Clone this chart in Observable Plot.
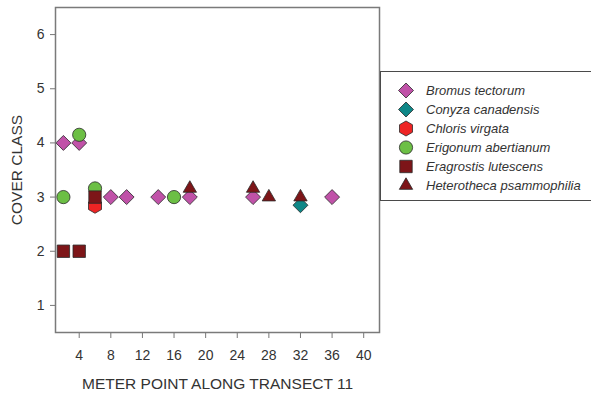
<!DOCTYPE html>
<html><head><meta charset="utf-8">
<script src="https://cdn.jsdelivr.net/npm/d3@7"></script>
<script src="https://cdn.jsdelivr.net/npm/@observablehq/plot@0.6"></script>
<style>
html,body{margin:0;padding:0;background:#fff;overflow:hidden;}
#wrap{position:relative;width:591px;height:396px;font-family:"Liberation Sans",Arial,sans-serif;}
#legend{position:absolute;left:380px;top:71px;width:240px;height:130px;border:1.3px solid #4a4a4a;box-sizing:border-box;background:#fff;}
.row{position:absolute;left:0;height:19px;display:flex;align-items:center;}
.row svg{display:block;}
.row span{font-style:italic;font-size:13px;color:#333;margin-left:11px;white-space:nowrap;}
</style></head><body><div id="wrap"></div>
<script>
// ---- data ----
const species = ["Bromus tectorum","Conyza canadensis","Chloris virgata","Erigonum abertianum","Eragrostis lutescens","Heterotheca psammophilia"];
const speciesColors = ["#c052a8","#0f8787","#ee2424","#6cbf45","#7d1518","#7d1518"];

const bromusX = [2,4,8,10,14,18,26,36];
const bromusY = [4,4,3,3,3,3,3,3];
const conyzaX = [32];
const conyzaY = [2.85];
const chlorisX = [6];
const chlorisY = [2.84];
const erigonumX = [2,4,6,16];
const erigonumY = [3,4.15,3.16,3];
const eragrostisX = [2,4,6];
const eragrostisY = [2,2,3];
const heterothecaX = [18,26,28,32];
const heterothecaY = [3.16,3.16,3.0,3.0];

const xTicks = [4,8,12,16,20,24,28,32,36,40];
const yTicks = [1,2,3,4,5,6];
const xLabel = "METER POINT ALONG TRANSECT 11";
const yLabel = "COVER CLASS";

// ---- symbols ----
const symbolHexagon = {draw(ctx, size){
  const R = Math.sqrt(size/Math.PI)*1.12;
  for (let i=0;i<6;i++){const a=-Math.PI/2+i*Math.PI/3;const px=R*Math.cos(a),py=R*Math.sin(a);i?ctx.lineTo(px,py):ctx.moveTo(px,py);}
  ctx.closePath();
}};
const symbols = [d3.symbolDiamond2, d3.symbolDiamond2, symbolHexagon, d3.symbolCircle, d3.symbolSquare, d3.symbolTriangle];
const radii = [6.75, 6.75, 6.7, 6.6, 7.0, 4.95];
const seriesX = [bromusX, conyzaX, chlorisX, erigonumX, eragrostisX, heterothecaX];
const seriesY = [bromusY, conyzaY, chlorisY, erigonumY, eragrostisY, heterothecaY];

const dotMarks = species.map((s,k) => Plot.dot(seriesX[k].map((x,i)=>({x, y: seriesY[k][i]})), {
  x:"x", y:"y", symbol: symbols[k], r: radii[k], fill: speciesColors[k], stroke:"#2a2a2a", strokeWidth:0.8
}));

const chart = Plot.plot({
  width: 591, height: 396,
  marginLeft: 55, marginRight: 212, marginTop: 7, marginBottom: 64,
  x: {domain:[1,42]},
  y: {domain:[0.5,6.5]},
  style: {fontFamily:"'Liberation Sans', Arial, sans-serif", color:"#333", background:"#fff"},
  marks: [
    Plot.axisX({ticks: xTicks, tickFormat: d => String(d), tickSize: 6, tickPadding: 12, stroke:"#777", fill:"#333", fontSize: 14, label: null}),
    Plot.axisY({ticks: yTicks, tickFormat: d => String(d), tickSize: 5, tickPadding: 6, stroke:"#777", fill:"#333", fontSize: 14, label: null}),
    ...dotMarks,
    Plot.frame({stroke:"#7a7a7a", strokeWidth:1.5}),
    Plot.text([xLabel], {frameAnchor:"bottom", dy: 56.5, lineAnchor:"bottom", textAnchor:"middle", fontSize: 15.5, fill:"#333"}),
    Plot.text([yLabel], {frameAnchor:"left", dx: -45, rotate: -90, lineAnchor:"top", textAnchor:"middle", fontSize: 15.5, fill:"#333"})
  ]
});
const wrap = document.getElementById("wrap");
wrap.appendChild(chart);

// ---- legend ----
const legend = document.createElement("div");
legend.id = "legend";
species.forEach((s,k) => {
  const row = document.createElement("div");
  row.className = "row";
  row.style.top = (9 + 19*k) + "px";
  row.style.left = "16px";
  const svg = d3.create("svg").attr("width",18).attr("height",19);
  svg.append("path").attr("transform","translate(9,9.5)")
    .attr("d", d3.symbol(symbols[k], Math.PI*radii[k]*radii[k])())
    .attr("fill", speciesColors[k]).attr("stroke","#2a2a2a").attr("stroke-width",0.8);
  row.appendChild(svg.node());
  const t = document.createElement("span"); t.textContent = s;
  row.appendChild(t);
  legend.appendChild(row);
});
wrap.appendChild(legend);
</script></body></html>
